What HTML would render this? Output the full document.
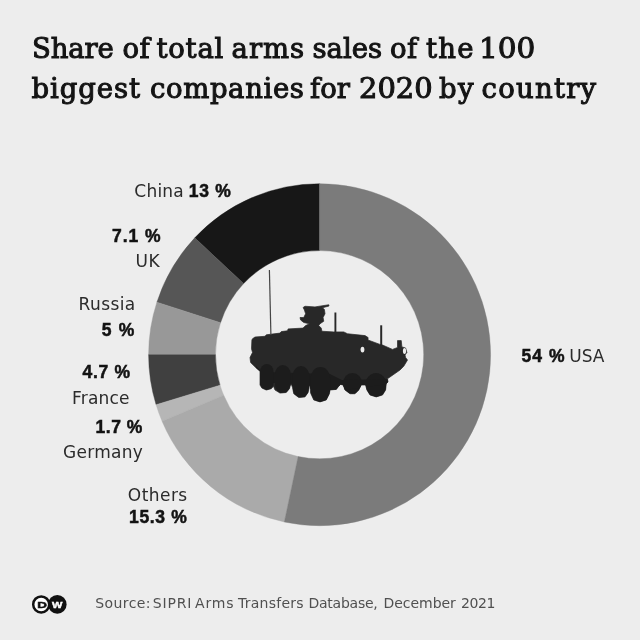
<!DOCTYPE html>
<html><head><meta charset="utf-8"><title>Share of total arms sales</title>
<style>
html,body{margin:0;padding:0;}
body{width:640px;height:640px;background:#ededed;overflow:hidden;position:relative;font-family:"Liberation Sans",sans-serif;color:#1c1c1c;}
h1{margin:0;font-family:"DejaVu Serif","Liberation Serif",serif;font-weight:400;font-size:27.5px;line-height:40px;color:#141414;-webkit-text-stroke:1px #141414;}
h1 span,.r,.b,.s{position:absolute;white-space:nowrap;}
.r{font-family:"DejaVu Sans","Liberation Sans",sans-serif;font-size:17px;line-height:20px;color:#2b2b2b;}
.b{font-family:"Liberation Sans",sans-serif;font-weight:700;font-size:17.5px;line-height:20px;color:#131313;-webkit-text-stroke:0.5px #131313;}
.s{font-family:"DejaVu Sans","Liberation Sans",sans-serif;font-size:14px;line-height:20px;color:#505050;}
svg{position:absolute;left:0;top:0;}
</style></head><body>
<h1><span style="left:32.0px;top:27.5px;letter-spacing:-0.12px">Share</span> <span style="left:122.5px;top:27.5px;letter-spacing:0.50px">of</span> <span style="left:156.5px;top:27.5px;letter-spacing:0.75px">total</span> <span style="left:231.5px;top:27.5px;letter-spacing:1.00px">arms</span> <span style="left:312.5px;top:27.5px;letter-spacing:0.00px">sales</span> <span style="left:390.0px;top:27.5px;letter-spacing:0.50px">of</span> <span style="left:426.0px;top:27.5px;letter-spacing:1.25px">the</span> <span style="left:479.3px;top:27.5px;transform:scaleX(1.073);transform-origin:0 0">100</span> <span style="left:31.5px;top:67.5px;letter-spacing:0.92px">biggest</span> <span style="left:150.0px;top:67.5px;letter-spacing:0.62px">companies</span> <span style="left:310.0px;top:67.5px;letter-spacing:0.00px">for</span> <span style="left:358.9px;top:67.5px;transform:scaleX(1.053);transform-origin:0 0">2020</span> <span style="left:439.0px;top:67.5px;letter-spacing:1.50px">by</span> <span style="left:481.5px;top:67.5px;letter-spacing:1.25px">country</span></h1>
<svg width="640" height="640" viewBox="0 0 640 640">
<path d="M319.60 183.70A171.0 171.0 0 0 0 194.74 237.86L243.59 283.57A104.1 104.1 0 0 1 319.60 250.60Z" fill="#171717" stroke="#171717" stroke-width="0.4"/>
<path d="M194.74 237.86A171.0 171.0 0 0 0 156.88 302.14L220.54 322.70A104.1 104.1 0 0 1 243.59 283.57Z" fill="#565656" stroke="#565656" stroke-width="0.4"/>
<path d="M156.88 302.14A171.0 171.0 0 0 0 148.60 354.70L215.50 354.70A104.1 104.1 0 0 1 220.54 322.70Z" fill="#989898" stroke="#989898" stroke-width="0.4"/>
<path d="M148.60 354.70A171.0 171.0 0 0 0 156.07 404.70L220.05 385.14A104.1 104.1 0 0 1 215.50 354.70Z" fill="#404040" stroke="#404040" stroke-width="0.4"/>
<path d="M156.07 404.70A171.0 171.0 0 0 0 162.08 421.24L223.70 395.21A104.1 104.1 0 0 1 220.05 385.14Z" fill="#b6b6b6" stroke="#b6b6b6" stroke-width="0.4"/>
<path d="M162.08 421.24A171.0 171.0 0 0 0 284.34 522.03L298.13 456.56A104.1 104.1 0 0 1 223.70 395.21Z" fill="#aaaaaa" stroke="#aaaaaa" stroke-width="0.4"/>
<path d="M284.34 522.03A171.0 171.0 0 1 0 319.60 183.70L319.60 250.60A104.1 104.1 0 1 1 298.13 456.56Z" fill="#7b7b7b" stroke="#7b7b7b" stroke-width="0.4"/>
<defs><clipPath id="vc"><polygon points="252.5 338.75 255 337 265 336.3 266.3 334.8 280 333.1 281.3 331.6 287.5 330.8 288.1 328.9 303 328.1 305.6 325.6 309.4 323.8
303.75 322.5 300.6 320 300 317.5 303.75 317.5 305.6 313.75 304.4 310 303.1 307.5 305 306.25 315 306.9 328.75 304.75 329 306 322.5 307.75 324.4 309.4 325 313.75 323.1 317.5 323.75 321.25 320 323.75 318.75 325.6 321.25 328.1 321.9 331.25
333.75 331.9 343.75 331.9 347.5 333.75 365 335.6 368.1 337.5 368 340 380 344.4 382.5 345 392.5 349.4 397.5 347.5 397.5 340.6 401.25 340.6 401.9 346.9 405.6 348 406.9 352.5 405 355 405.6 357.5 407.5 360 403.75 366.25 400 370 387.5 378.75 388 381.9 386.25 383.75
385.6 390 382.5 395 376.25 396.9 370 395 366.9 390 365.6 385 361.25 385 358.75 390 355 393.75 350 393.75 345 390 343.1 385 340.6 384.4 338.75 386.25 336.25 389.4 330 390 329.4 393.75 326.25 400 320 401.9 313.75 400 310.6 393 310 386 309.4 385 308.1 392.5 305 396.9 298.75 397.5 293.75 393.75 292.5 387.5 291 383 289.4 388.75 286.25 392.5 280 393.1 275 390 273.5 386.25 271.25 388.75 266.25 390 261.9 388.1 260 385 260 371.25 256.25 368.1 250.6 362.5 250 357.5 252.5 352.5 251.5 348.75 251.9 340"/></clipPath></defs>
<g fill="#282828" stroke="#282828">
<polygon points="252.5 338.75 255 337 265 336.3 266.3 334.8 280 333.1 281.3 331.6 287.5 330.8 288.1 328.9 303 328.1 305.6 325.6 309.4 323.8
303.75 322.5 300.6 320 300 317.5 303.75 317.5 305.6 313.75 304.4 310 303.1 307.5 305 306.25 315 306.9 328.75 304.75 329 306 322.5 307.75 324.4 309.4 325 313.75 323.1 317.5 323.75 321.25 320 323.75 318.75 325.6 321.25 328.1 321.9 331.25
333.75 331.9 343.75 331.9 347.5 333.75 365 335.6 368.1 337.5 368 340 380 344.4 382.5 345 392.5 349.4 397.5 347.5 397.5 340.6 401.25 340.6 401.9 346.9 405.6 348 406.9 352.5 405 355 405.6 357.5 407.5 360 403.75 366.25 400 370 387.5 378.75 388 381.9 386.25 383.75
385.6 390 382.5 395 376.25 396.9 370 395 366.9 390 365.6 385 361.25 385 358.75 390 355 393.75 350 393.75 345 390 343.1 385 340.6 384.4 338.75 386.25 336.25 389.4 330 390 329.4 393.75 326.25 400 320 401.9 313.75 400 310.6 393 310 386 309.4 385 308.1 392.5 305 396.9 298.75 397.5 293.75 393.75 292.5 387.5 291 383 289.4 388.75 286.25 392.5 280 393.1 275 390 273.5 386.25 271.25 388.75 266.25 390 261.9 388.1 260 385 260 371.25 256.25 368.1 250.6 362.5 250 357.5 252.5 352.5 251.5 348.75 251.9 340" stroke-width="0.7" stroke-linejoin="round"/>
<g fill="#1c1c1c" stroke="none" clip-path="url(#vc)">
<ellipse cx="352.5" cy="383.5" rx="9.6" ry="10.6"/>
<ellipse cx="376" cy="385" rx="10.6" ry="12"/>
<polygon points="256,366 262,372 330,374 342,380 388,379 388,384 330,392 256,380"/>
<rect x="260" y="364" width="13.6" height="26.2" rx="6.8" ry="8"/>
<rect x="275" y="365" width="15.6" height="28.4" rx="7.8" ry="9"/>
<rect x="292.6" y="366" width="16.8" height="31.7" rx="8.4" ry="10"/>
<rect x="310.7" y="367" width="19.4" height="35" rx="9.7" ry="11"/>
</g>
<line x1="269.4" y1="270" x2="270.9" y2="335" stroke-width="1.2" stroke="#444"/>
<line x1="335.4" y1="312.5" x2="335.4" y2="333" stroke-width="1.9"/>
<line x1="381.2" y1="325.3" x2="381.2" y2="346" stroke-width="2"/>
</g>
<ellipse cx="362.5" cy="349.6" rx="1.9" ry="2.9" fill="#ededed"/>
<ellipse cx="404.5" cy="350.9" rx="1.6" ry="3" fill="#ededed"/>
<g>
<circle cx="57.3" cy="604.4" r="9.3" fill="#111"/>
<circle cx="41.2" cy="604.4" r="8" fill="#fff" stroke="#111" stroke-width="2.5"/>
<text transform="translate(42 608.3) scale(1.42 1)" font-family="Liberation Sans, sans-serif" font-weight="700" font-size="9.4" text-anchor="middle" fill="#111" stroke="#111" stroke-width="0.5">D</text>
<text transform="translate(57.1 608) scale(1.2 1)" font-family="Liberation Sans, sans-serif" font-weight="700" font-size="9.2" text-anchor="middle" fill="#fff" stroke="#fff" stroke-width="0.45">W</text>
</g>
</svg>
<div><span class="r" style="left:134.3px;top:180.8px;letter-spacing:0.22px">China</span>
<span class="b" style="left:188.7px;top:180.8px;letter-spacing:0.77px">13 %</span>
<span class="b" style="left:112.1px;top:226.2px;letter-spacing:0.91px">7.1 %</span>
<span class="r" style="left:135.5px;top:251.2px;letter-spacing:0.50px">UK</span>
<span class="r" style="left:78.6px;top:294.4px;letter-spacing:0.38px">Russia</span>
<span class="b" style="left:101.8px;top:319.6px;letter-spacing:1.12px">5 %</span>
<span class="b" style="left:521.4px;top:346.0px;letter-spacing:1.07px">54 %</span>
<span class="r" style="left:569.2px;top:346.0px;letter-spacing:0.00px">USA</span>
<span class="b" style="left:82.5px;top:362.1px;letter-spacing:0.73px">4.7 %</span>
<span class="r" style="left:72.0px;top:387.5px;letter-spacing:0.20px">France</span>
<span class="b" style="left:95.4px;top:416.8px;letter-spacing:0.57px">1.7 %</span>
<span class="r" style="left:63.0px;top:441.7px;letter-spacing:0.28px">Germany</span>
<span class="r" style="left:127.8px;top:485.4px;letter-spacing:0.45px">Others</span>
<span class="b" style="left:129.0px;top:506.7px;letter-spacing:0.65px">15.3 %</span>
<span class="s" style="left:95.2px;top:593.0px;letter-spacing:0.42px">Source:</span>
<span class="s" style="left:152.8px;top:593.0px;letter-spacing:0.81px">SIPRI</span>
<span class="s" style="left:195.0px;top:593.0px;letter-spacing:0.83px">Arms</span>
<span class="s" style="left:238.0px;top:593.0px;letter-spacing:0.25px">Transfers</span>
<span class="s" style="left:308.5px;top:593.0px;letter-spacing:-0.25px">Database,</span>
<span class="s" style="left:383.5px;top:593.0px;letter-spacing:-0.04px">December</span>
<span class="s" style="left:461.0px;top:593.0px;letter-spacing:-0.42px">2021</span></div>
</body></html>
